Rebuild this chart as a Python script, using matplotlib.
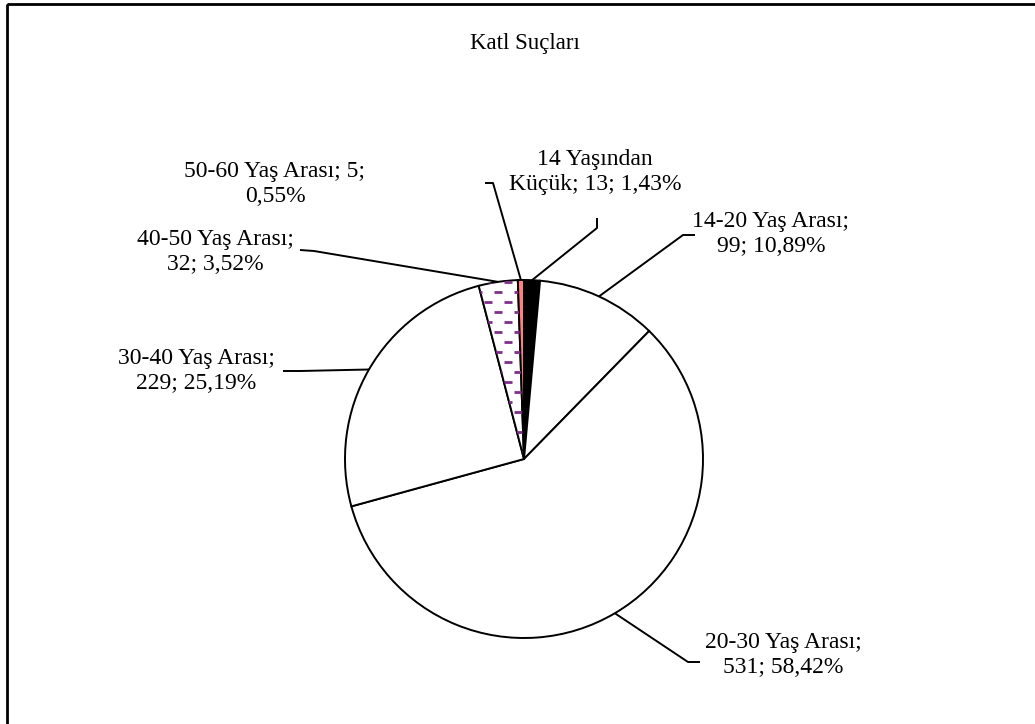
import numpy as np
import matplotlib.pyplot as plt
from matplotlib.patches import Rectangle
from matplotlib.collections import LineCollection

plt.rcParams['font.family'] = ['Liberation Serif', 'DejaVu Serif']

title = 'Katl Suçları'
categories = ['14 Yaşından Küçük', '14-20 Yaş Arası', '20-30 Yaş Arası',
              '30-40 Yaş Arası', '40-50 Yaş Arası', '50-60 Yaş Arası']
counts = [13, 99, 531, 229, 32, 5]
percents = ['1,43%', '10,89%', '58,42%', '25,19%', '3,52%', '0,55%']
label_texts = ['14 Yaşından\nKüçük; 13; 1,43%',
               '14-20 Yaş Arası;\n99; 10,89%',
               '20-30 Yaş Arası;\n531; 58,42%',
               '30-40 Yaş Arası;\n229; 25,19%',
               '40-50 Yaş Arası;\n32; 3,52%',
               '50-60 Yaş Arası; 5;\n0,55%']

colors = ['black', 'white', 'white', 'white', 'white', '#FF8080']

# layout (pixel coords, y down): label centre, leader stub start, stub end
label_pos = [(595, 172), (771, 234), (783, 655), (196, 371), (215, 252), (275, 184)]
stubs = [((597, 218), (597, 228)),
         ((695, 235), (683, 235)),
         ((700, 662), (688, 662)),
         ((283, 371), (300, 371)),
         ((300, 250), (314, 251)),
         ((485, 183), (493, 183))]

W, H = 1035, 724
cx, cy, R = 524, 459, 179

fig = plt.figure(figsize=(W / 100, H / 100), dpi=100)
ax = fig.add_axes([0, 0, 1, 1])

# y axis is inverted below, so startangle=-90 + counterclock gives
# a visual start at 12 o'clock going clockwise
wedges, _ = ax.pie(counts, colors=colors, startangle=-90, counterclock=True,
                   center=(cx, cy), radius=R,
                   wedgeprops=dict(edgecolor='black', linewidth=1.4))

# purple dashed pattern on the 40-50 slice
hw = wedges[4]
segs = []
for i, y in enumerate(np.arange(cy - R + 2, cy + 5, 10)):
    off = 10 if i % 2 else 0
    for x in np.arange(cx - 60 + off, cx + 20, 20):
        segs.append([(x, y), (x + 8, y)])
lc = LineCollection(segs, colors='#7F2F8A', linewidths=2.0, capstyle='butt')
ax.add_collection(lc)
lc.set_clip_path(hw)

# labels and leader lines
for w, txt, (tx, ty), (s0, s1) in zip(wedges, label_texts, label_pos, stubs):
    mid = np.deg2rad((w.theta1 + w.theta2) / 2)
    rx, ry = cx + R * np.cos(mid), cy + R * np.sin(mid)
    ax.plot([s0[0], s1[0], rx], [s0[1], s1[1], ry], color='black', lw=1.4,
            solid_capstyle='butt')
    ax.text(tx, ty, txt, ha='center', va='center', multialignment='center',
            fontsize=17, linespacing=1.22)

ax.text(525, 44, title, ha='center', va='center', fontsize=16.5)

# chart frame (right / bottom edges run off the image)
ax.add_patch(Rectangle((7, 4), 1100, 800, fill=False, edgecolor='black',
                       linewidth=2, clip_on=False))

ax.set_xlim(0, W)
ax.set_ylim(H, 0)
ax.set_aspect('equal')
ax.axis('off')

fig.savefig('out.png', dpi=100)
